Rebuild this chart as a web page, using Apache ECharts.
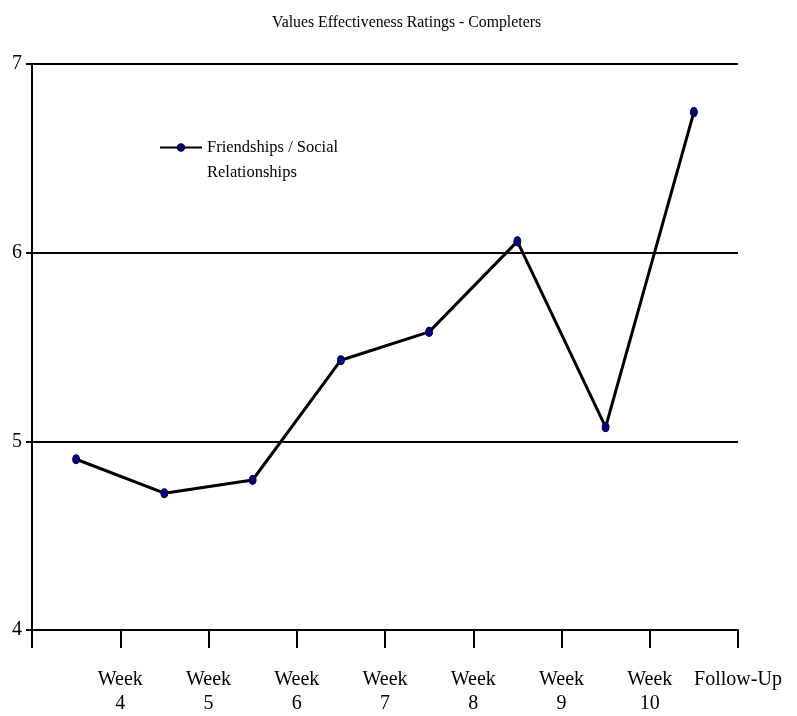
<!DOCTYPE html>
<html>
<head>
<meta charset="utf-8">
<script src="https://cdn.jsdelivr.net/npm/echarts@6/dist/echarts.min.js"></script>
<style>
  html, body { margin: 0; padding: 0; background: #fff; }
  #chart { width: 797px; height: 716px; }
</style>
</head>
<body>
<div id="chart"></div>
<script>
// labels sit on the tick marks between points, like the original Excel chart
var tickLabels = ['', 'Week\n4', 'Week\n5', 'Week\n6', 'Week\n7', 'Week\n8', 'Week\n9', 'Week\n10', 'Follow-Up'];
var pointSlots = ['1', '2', '3', '4', '5', '6', '7', '8'];
var friendships = [4.905, 4.725, 4.795, 5.43, 5.58, 6.06, 5.075, 6.745];
var seriesName = 'Friendships / Social Relationships';

var serif = '"Liberation Serif", "Times New Roman", serif';
var chart = echarts.init(document.getElementById('chart'), null, { renderer: 'canvas' });

var option = {
    backgroundColor: '#fff',
    animation: false,
    title: {
        text: 'Values Effectiveness Ratings - Completers',
        left: 267,
        top: 10,
        textStyle: { fontFamily: serif, fontSize: 15.8, fontWeight: 'normal', color: '#000' }
    },
    legend: {
        left: 154,
        top: 105,
        itemWidth: 42,
        itemHeight: 8,
        data: [seriesName],
        // blank first line so the symbol lines up with the first text line
        formatter: function () {
            return ' \nFriendships / Social\nRelationships';
        },
        textStyle: {
            fontFamily: serif,
            fontSize: 16.5,
            lineHeight: 25,
            color: '#000'
        }
    },
    grid: {
        left: 32,
        right: 59,
        top: 64,
        bottom: 84,
        containLabel: false
    },
    xAxis: [
        {
            type: 'category',
            data: pointSlots,
            boundaryGap: true,
            axisLine: { lineStyle: { color: '#000', width: 2 } },
            axisTick: { show: true, length: 18, lineStyle: { color: '#000', width: 2 } },
            axisLabel: { show: false },
            splitLine: { show: false }
        },
        {
            type: 'category',
            data: tickLabels,
            boundaryGap: false,
            position: 'bottom',
            axisLine: { show: false },
            axisTick: { show: false },
            splitLine: { show: false },
            axisLabel: {
                interval: 0,
                fontFamily: serif,
                fontSize: 20,
                lineHeight: 24,
                margin: 38,
                color: '#000'
            }
        }
    ],
    yAxis: {
        type: 'value',
        min: 4,
        max: 7,
        interval: 1,
        axisLine: { show: true, lineStyle: { color: '#000', width: 2 } },
        axisTick: { show: true, length: 6, lineStyle: { color: '#000', width: 2 } },
        axisLabel: { fontFamily: serif, fontSize: 20, color: '#000', margin: 10 },
        splitLine: { show: true, lineStyle: { color: '#000', width: 2 } }
    },
    series: [
        {
            name: seriesName,
            type: 'line',
            xAxisIndex: 0,
            data: friendships,
            symbol: 'circle',
            symbolSize: [7, 9],
            lineStyle: { color: '#000', width: 3 },
            itemStyle: { color: '#000080', borderColor: '#000040', borderWidth: 1 }
        }
    ]
};

chart.setOption(option);

window.addEventListener('resize', function () {
    chart.resize();
});
</script>
</body>
</html>
